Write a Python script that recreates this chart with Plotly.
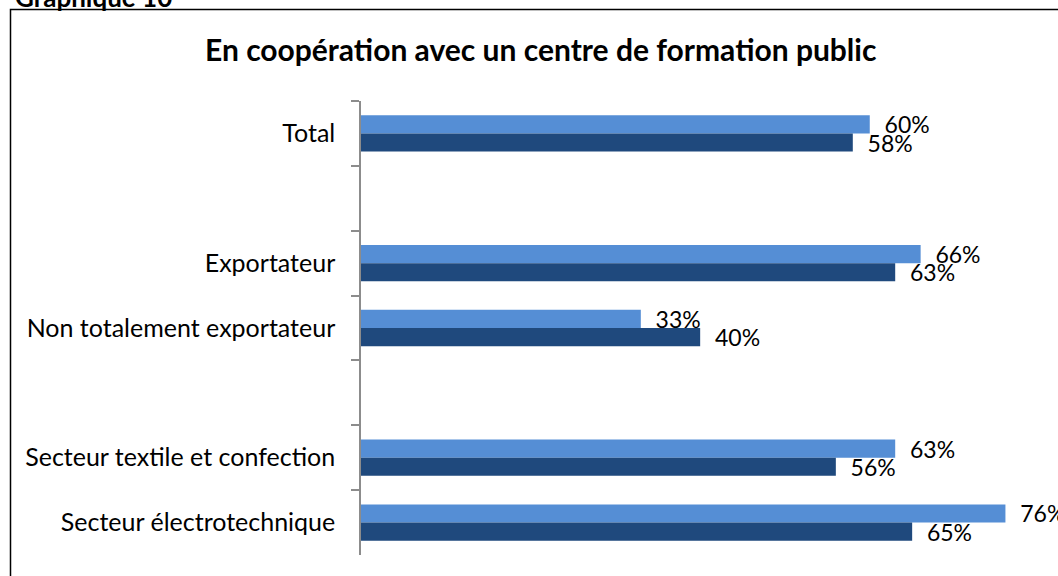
import plotly.graph_objects as go

categories = ["Total", " ", "Exportateur", "Non totalement exportateur", "  ",
              "Secteur textile et confection", "Secteur électrotechnique"]
series_light = [0.60, None, 0.66, 0.33, None, 0.63, 0.76]
series_dark = [0.58, None, 0.63, 0.40, None, 0.56, 0.65]

LIGHT = "#558ED5"
DARK = "#1F497D"
FONT = "Lato"

def labels(vals):
    return ["\u00a0\u00a0" + f"{round(v*100)}%" if v is not None else "" for v in vals]

fig = go.Figure()
fig.add_trace(go.Bar(y=categories, x=series_light, orientation="h",
                     marker=dict(color=LIGHT, line=dict(width=0)),
                     text=labels(series_light), textposition="outside",
                     constraintext="none", cliponaxis=False,
                     textfont=dict(family=FONT, size=23, color="#000000"),
                     hoverinfo="skip"))
fig.add_trace(go.Bar(y=categories, x=series_dark, orientation="h",
                     marker=dict(color=DARK, line=dict(width=0)),
                     text=labels(series_dark), textposition="outside",
                     constraintext="none", cliponaxis=False,
                     textfont=dict(family=FONT, size=23, color="#000000"),
                     hoverinfo="skip"))

L, R, T, B = 361, 0, 101, 21
W, H = 1058, 576
pw, ph = W - L - R, H - T - B

def px_x(p):
    return (p - L) / pw

def px_y(p):
    return (H - B - p) / ph

fig.update_layout(
    width=W, height=H,
    margin=dict(l=L, r=R, t=T, b=B),
    paper_bgcolor="white", plot_bgcolor="white",
    barmode="group", bargap=0.44, bargroupgap=0,
    showlegend=False,
    font=dict(family=FONT, color="#000000"),
    xaxis=dict(range=[0, 0.822], visible=False, fixedrange=True),
    yaxis=dict(type="category", categoryorder="array", categoryarray=categories,
               autorange="reversed", showline=True, linecolor="#8c8c8c", linewidth=1.5,
               ticks="outside", tickson="boundaries", ticklen=8, tickcolor="#8c8c8c",
               tickwidth=1.5, showgrid=False, zeroline=False, fixedrange=True,
               tickfont=dict(family=FONT, size=25, color="#000000"), ticklabelstandoff=19),
    shapes=[dict(type="rect", xref="paper", yref="paper",
                 x0=px_x(10.5), x1=px_x(1080), y0=px_y(600), y1=px_y(9.5),
                 line=dict(color="#000000", width=1.5), fillcolor="rgba(0,0,0,0)")],
    annotations=[
        dict(text="<b>En coopération avec un centre de formation public</b>",
             xref="paper", yref="paper", x=px_x(540), y=px_y(49),
             xanchor="center", yanchor="middle", showarrow=False,
             font=dict(family=FONT, size=30, color="#000000")),
        dict(text="<b>Graphique 10</b>",
             xref="paper", yref="paper", x=px_x(13), y=px_y(15),
             xanchor="left", yanchor="bottom", showarrow=False,
             font=dict(family=FONT, size=26, color="#000000")),
    ],
)

fig.write_html("out.html",
               config={"displayModeBar": False},
               post_script="document.body.style.margin='0';document.body.style.padding='0';"
                           "document.body.style.overflow='hidden';"
                           "document.documentElement.style.overflow='hidden';")
